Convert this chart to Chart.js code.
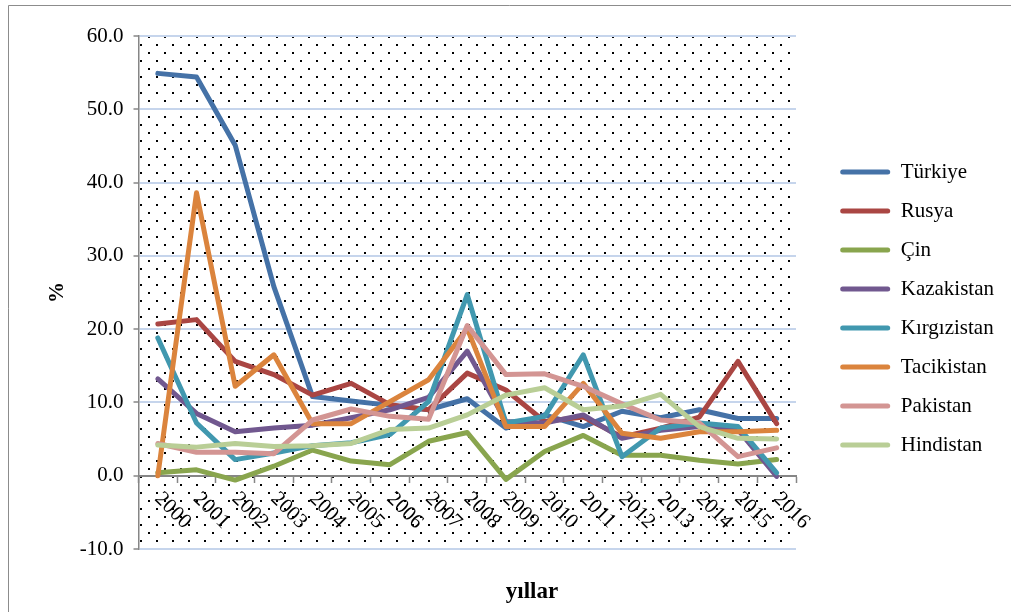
<!DOCTYPE html>
<html><head><meta charset="utf-8">
<script src="https://cdn.jsdelivr.net/npm/chart.js@4/dist/chart.umd.min.js"></script>
<style>html,body{margin:0;padding:0;background:#fff;}canvas{display:block;}</style>
</head><body>
<canvas id="c" width="1011" height="612"></canvas>
<script>
const years = ['2000','2001','2002','2003','2004','2005','2006','2007','2008','2009','2010','2011','2012','2013','2014','2015','2016'];
const turkiye     = [54.9, 54.4, 45.1, 25.8, 10.8, 10.2, 9.6, 9.0, 10.5, 6.5, 8.3, 6.7, 8.8, 7.9, 9.0, 7.8, 7.8];
const rusya       = [20.7, 21.3, 15.6, 13.8, 11.0, 12.6, 9.7, 9.0, 14.0, 11.7, 7.4, 8.0, 5.3, 6.5, 8.0, 15.6, 7.1];
const cin         = [0.4, 0.8, -0.6, 1.3, 3.5, 2.0, 1.5, 4.7, 5.9, -0.5, 3.3, 5.5, 2.8, 2.8, 2.1, 1.6, 2.2];
const kazakistan  = [13.2, 8.5, 6.0, 6.5, 6.9, 7.9, 9.0, 10.7, 17.0, 7.4, 7.2, 8.3, 5.1, 6.2, 6.7, 6.3, -0.1];
const kirgizistan = [18.8, 7.2, 2.2, 3.1, 4.1, 4.5, 5.6, 10.1, 24.7, 7.2, 8.1, 16.5, 2.6, 6.5, 7.2, 6.7, 0.4];
const tacikistan  = [0.0, 38.6, 12.2, 16.5, 7.1, 7.1, 10.1, 13.1, 20.1, 6.7, 6.7, 12.6, 5.8, 5.1, 6.0, 6.0, 6.2];
const pakistan    = [4.4, 3.2, 3.2, 3.0, 7.6, 9.1, 8.1, 7.7, 20.5, 13.8, 13.9, 12.2, 9.8, 7.6, 7.2, 2.6, 3.8];
const hindistan   = [4.2, 3.9, 4.4, 4.0, 4.1, 4.4, 6.3, 6.5, 8.3, 11.0, 12.0, 9.0, 9.5, 11.1, 6.7, 5.1, 5.0];
const seriesNames = ['Türkiye','Rusya','Çin','Kazakistan','Kırgızistan','Tacikistan','Pakistan','Hindistan'];
const seriesData = [turkiye, rusya, cin, kazakistan, kirgizistan, tacikistan, pakistan, hindistan];
const seriesColors = ['#4572A7','#AA4643','#89A54E','#71588F','#4198AF','#DB843D','#D39593','#B9CE96'];
const yMin = -10, yMax = 60, yStep = 10;

const PL = 60, PR = 7;
const FONT = 'Liberation Serif';

const bgPlugin = {
  id: 'bg',
  beforeDraw(chart) {
    const ctx = chart.ctx, a = chart.chartArea;
    ctx.save();
    ctx.fillStyle = '#fff';
    ctx.fillRect(0, 0, chart.width, chart.height);
    ctx.strokeStyle = '#8c8c8c';
    ctx.lineWidth = 1;
    ctx.beginPath();
    ctx.moveTo(8.5, chart.height); ctx.lineTo(8.5, 5.5); ctx.lineTo(chart.width, 5.5);
    ctx.stroke();
    const t = document.createElement('canvas');
    t.width = 16; t.height = 16;
    const g = t.getContext('2d');
    g.fillStyle = '#000';
    g.fillRect(4, 4, 2, 2);
    g.fillRect(12, 12, 2, 2);
    ctx.fillStyle = ctx.createPattern(t, 'repeat');
    ctx.fillRect(a.left, a.top, a.right - a.left, a.bottom - a.top);
    ctx.restore();
  }
};

const xLabelPlugin = {
  id: 'xlabels',
  afterDraw(chart) {
    const ctx = chart.ctx, sx = chart.scales.x, sy = chart.scales.y;
    const y0 = sy.getPixelForValue(0);
    ctx.save();
    ctx.font = '21px "' + FONT + '"';
    ctx.fillStyle = '#000';
    ctx.textAlign = 'left';
    ctx.textBaseline = 'middle';
    years.forEach((lab, i) => {
      const x = sx.getPixelForTick(i);
      ctx.save();
      ctx.translate(x, y0 + 20);
      ctx.rotate(Math.PI / 4);
      ctx.fillText(lab, 0, 0);
      ctx.restore();
    });
    ctx.restore();
  }
};

new Chart(document.getElementById('c'), {
  type: 'line',
  data: {
    labels: years,
    datasets: seriesNames.map((n, i) => ({
      label: n,
      data: seriesData[i],
      borderColor: seriesColors[i],
      backgroundColor: seriesColors[i],
      borderWidth: 5,
      pointRadius: 0,
      pointHoverRadius: 0,
      tension: 0,
      borderCapStyle: 'round',
      borderJoinStyle: 'round',
      fill: false,
      order: seriesNames.length - i,
      xAxisID: 'x',
      yAxisID: 'y'
    }))
  },
  options: {
    responsive: false,
    animation: false,
    devicePixelRatio: 1,
    layout: { padding: { left: PL, right: PR, top: 5, bottom: 0 } },
    plugins: {
      tooltip: { enabled: false },
      legend: {
        position: 'right',
        align: 'center',
        maxWidth: 400,
        labels: {
          boxWidth: 50, boxHeight: 5, padding: 18, color: '#000',
          font: { family: FONT, size: 21 },
          useBorderRadius: true, borderRadius: 2.5,
          sort: (a, b) => a.datasetIndex - b.datasetIndex,
          generateLabels: (chart) => Chart.defaults.plugins.legend.labels.generateLabels(chart)
            .map(l => Object.assign({}, l, { fillStyle: l.strokeStyle, lineWidth: 0 }))
        }
      },
      title: {
        display: true, position: 'bottom', text: 'yıllar', color: '#000',
        font: { family: FONT, size: 23, weight: 'bold', lineHeight: 1.2 },
        padding: { top: 29.2, bottom: 6.2 }
      }
    },
    scales: {
      x: {
        type: 'category',
        position: { y: 0 },
        offset: true,
        grid: { display: true, drawOnChartArea: false, drawTicks: true, tickLength: 6, tickColor: '#868686', tickWidth: 1.5, offset: true },
        border: { display: true, color: '#868686', width: 2 },
        ticks: { display: false }
      },
      xTop: {
        type: 'category',
        position: 'top',
        display: true,
        grid: { display: false, drawTicks: false },
        border: { display: false },
        ticks: { display: false },
        afterFit: s => { s.height = 31; }
      },
      y: {
        min: yMin, max: yMax,
        ticks: { stepSize: yStep, callback: v => Number(v).toFixed(1), color: '#000', font: { family: FONT, size: 21 }, padding: 10 },
        grid: {
          color: c => (c.tick && c.tick.value === 0) ? 'rgba(0,0,0,0)' : '#C6D5EC',
          lineWidth: 2, tickColor: '#868686', tickLength: 5, tickWidth: 1.5
        },
        border: { color: '#868686', width: 1.5 },
        title: { display: true, text: '%', color: '#000', font: { family: FONT, size: 21, weight: 'bold' }, padding: { top: -14.6, bottom: 0 } },
        afterFit: s => { s.width = 138.5 - PL; }
      },
      gap: {
        position: 'right',
        display: true,
        grid: { display: false, drawTicks: false },
        border: { display: false },
        ticks: { display: false },
        afterFit: s => { s.width = Math.max(0, 1011 - PR - s.chart.legend.width - 796); }
      }
    }
  },
  plugins: [bgPlugin, xLabelPlugin]
});
</script>
</body></html>
